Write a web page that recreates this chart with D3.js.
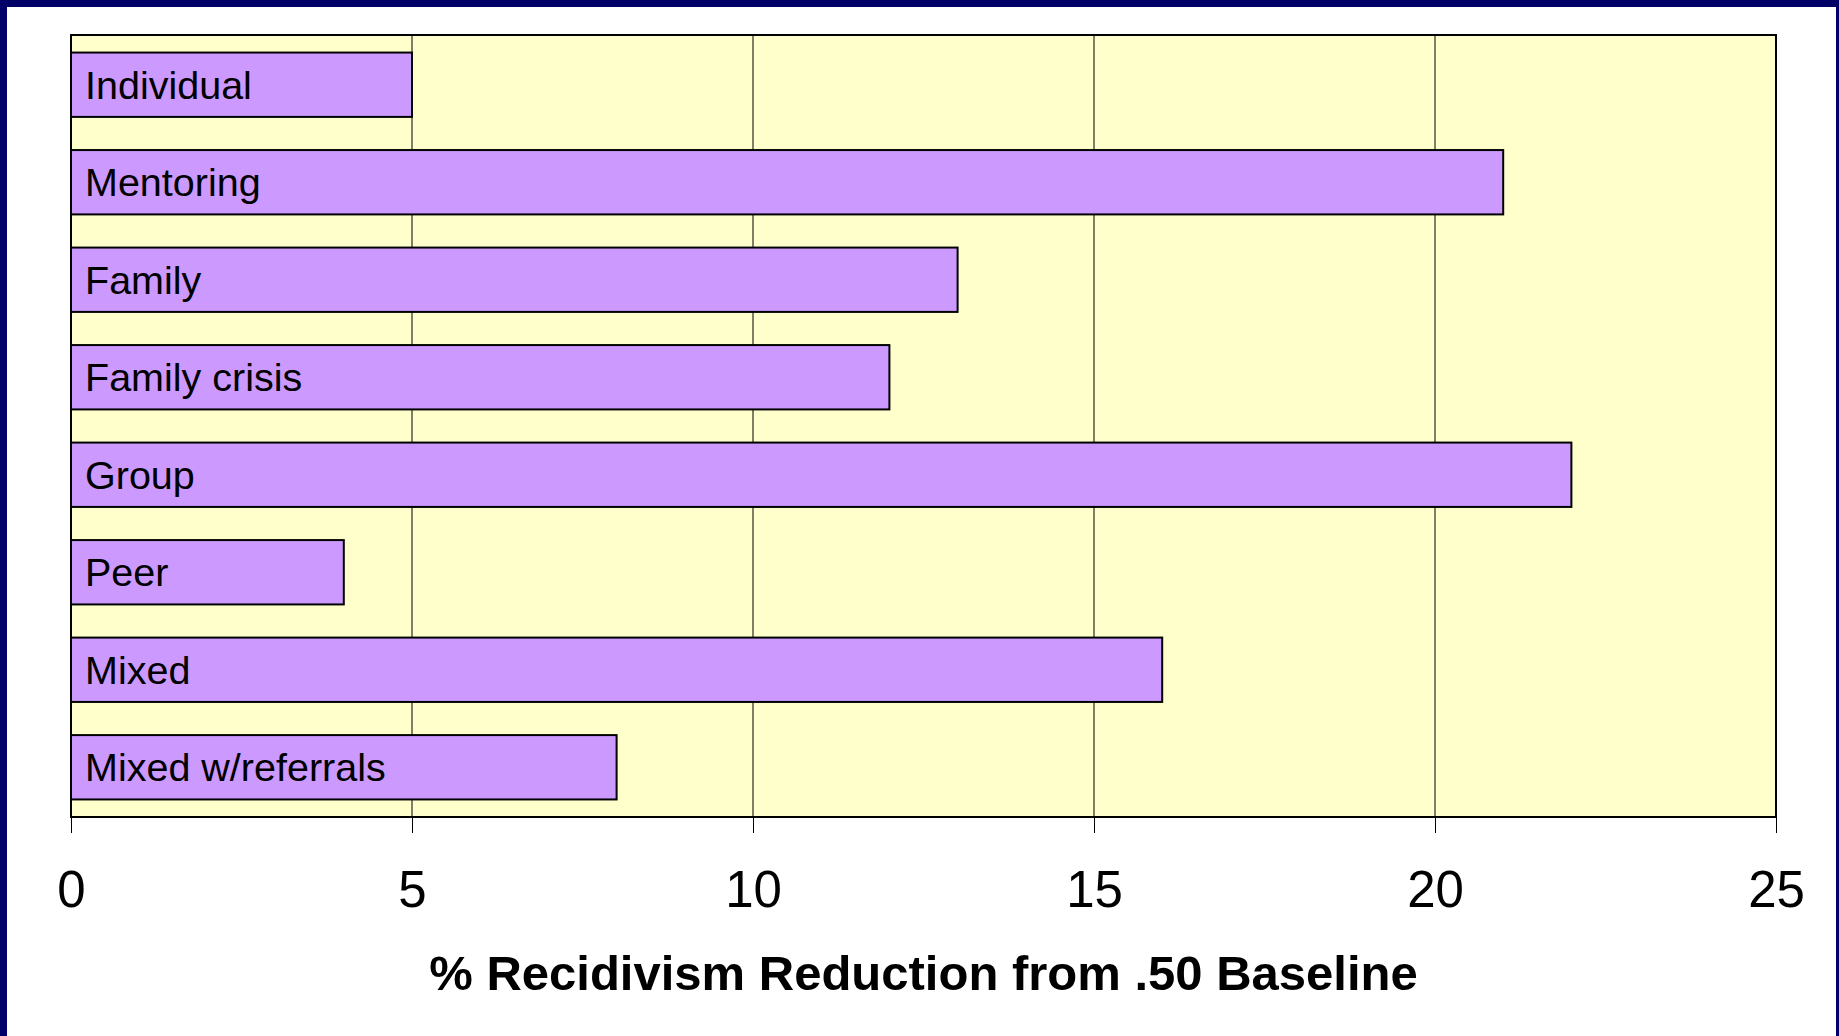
<!DOCTYPE html>
<html>
<head>
<meta charset="utf-8">
<script src="https://d3js.org/d3.v7.min.js"></script>
<style>
  html, body { margin: 0; padding: 0; background: #000066; }
  #chart { width: 1839px; height: 1036px; }
  text { font-family: "Liberation Sans", Arial, sans-serif; }
</style>
</head>
<body>
<div id="chart"></div>
<script>
// chart data
const categories = ["Individual", "Mentoring", "Family", "Family crisis", "Group", "Peer", "Mixed", "Mixed w/referrals"];
const values = [5, 21, 13, 12, 22, 4, 16, 8];
const tickValues = [0, 5, 10, 15, 20, 25];
const axisTitle = "% Recidivism Reduction from .50 Baseline";

const W = 1839, H = 1036;
const margin = { top: 35, right: 63, bottom: 219, left: 71 },
    width = W - margin.left - margin.right,
    height = H - margin.top - margin.bottom;

const root = d3.select("#chart")
    .append("svg")
    .attr("width", W)
    .attr("height", H);

// navy frame + white page
root.append("rect").attr("width", W).attr("height", H).attr("fill", "#000066");
root.append("rect")
    .attr("x", 7).attr("y", 7)
    .attr("width", W - 10).attr("height", H - 7)
    .attr("fill", "#ffffff");

const svg = root.append("g")
    .attr("transform", `translate(${margin.left},${margin.top})`);

const x = d3.scaleLinear()
    .domain([0, 25])
    .range([0, width]);

const y = d3.scaleBand()
    .domain(categories)
    .range([0, height])
    .paddingInner(0.34)
    .paddingOuter(0.18);

// plot background
svg.append("rect")
    .attr("width", width)
    .attr("height", height)
    .attr("fill", "#ffffcc");

// vertical gridlines
svg.append("g")
    .selectAll("line")
    .data(tickValues.slice(1, -1))
    .join("line")
    .attr("x1", d => x(d)).attr("x2", d => x(d))
    .attr("y1", 0).attr("y2", height)
    .attr("stroke", "#000")
    .attr("stroke-width", 1);

// bars
svg.append("g")
    .selectAll("rect")
    .data(categories)
    .join("rect")
    .attr("x", x(0))
    .attr("y", d => y(d))
    .attr("width", (d, i) => x(values[i]) - x(0))
    .attr("height", y.bandwidth())
    .attr("fill", "#cc99ff")
    .attr("stroke", "#000")
    .attr("stroke-width", 2);

// bar labels
svg.append("g")
    .selectAll("text")
    .data(categories)
    .join("text")
    .attr("x", 14)
    .attr("y", d => y(d) + y.bandwidth() / 2)
    .attr("dy", "0.35em")
    .style("font-size", "39.5px")
    .attr("fill", "#000")
    .text(d => d);

// plot border
svg.append("rect")
    .attr("width", width)
    .attr("height", height)
    .attr("fill", "none")
    .attr("stroke", "#000")
    .attr("stroke-width", 2);

// x axis
const xAxis = svg.append("g")
    .attr("transform", `translate(0,${height})`)
    .call(d3.axisBottom(x).tickValues(tickValues).tickSize(16).tickPadding(38));
xAxis.select(".domain").remove();
xAxis.selectAll(".tick line").attr("stroke", "#000").attr("stroke-width", 1);
xAxis.selectAll(".tick text")
    .style("font-family", "'Liberation Sans', Arial, sans-serif")
    .style("font-size", "51px")
    .attr("fill", "#000");

// axis title
svg.append("text")
    .attr("x", width / 2)
    .attr("y", 990 - margin.top)
    .attr("text-anchor", "middle")
    .style("font-size", "49px")
    .style("font-weight", "bold")
    .attr("fill", "#000")
    .text(axisTitle);
</script>
</body>
</html>
